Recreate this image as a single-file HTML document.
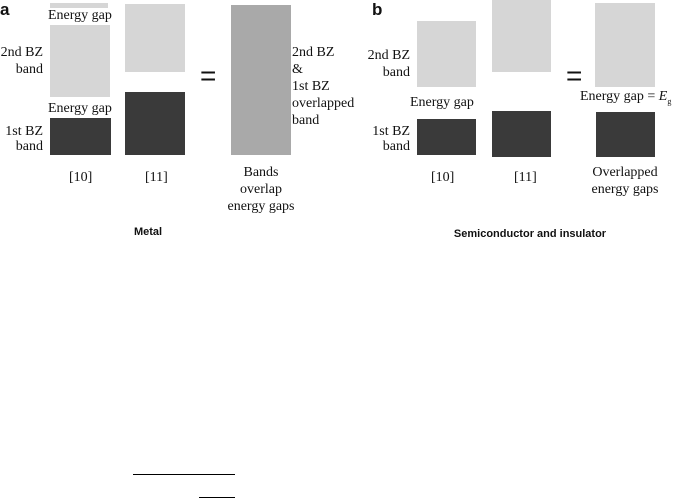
<!DOCTYPE html><html><head><style>
body{margin:0;width:674px;height:499px;background:#fff;position:relative;overflow:hidden;font-family:"Liberation Serif",serif;color:#111}
div{position:absolute}
.t{font-size:14px;line-height:14px;white-space:nowrap}
.L{background:#d6d6d6}.D{background:#3a3a3a}.M{background:#a9a9a9}
.r{text-align:right}.c{text-align:center}
.s{font-family:"Liberation Sans",sans-serif;font-weight:bold}
</style></head><body>
<div class="s" style="left:0;top:0;font-size:17px">a</div>
<div class="L" style="left:50px;top:3px;width:58px;height:5px"></div>
<div class="t" style="left:48px;top:9px">Energy gap</div>
<div class="L" style="left:50px;top:25px;width:60px;height:72px"></div>
<div class="t r" style="left:0;top:44px;width:43px;line-height:17px">2nd BZ<br>band</div>
<div class="t" style="left:48px;top:102px">Energy gap</div>
<div class="D" style="left:50px;top:118px;width:61px;height:37px"></div>
<div class="t r" style="left:0;top:124px;width:43px;line-height:15px">1st BZ<br>band</div>
<div class="L" style="left:125px;top:4px;width:60px;height:68px"></div>
<div class="D" style="left:125px;top:92px;width:60px;height:63px"></div>
<div class="t" style="left:200px;top:62px;font-size:28px;font-family:'Liberation Sans',sans-serif;line-height:28px">=</div>
<div class="M" style="left:231px;top:5px;width:60px;height:150px"></div>
<div class="t" style="left:292px;top:44px;line-height:17px">2nd BZ<br>&amp;<br>1st BZ<br>overlapped<br>band</div>
<div class="t" style="left:69px;top:171px">[10]</div>
<div class="t" style="left:145px;top:171px">[11]</div>
<div class="t c" style="left:211px;top:164px;width:100px;line-height:17px">Bands<br>overlap<br>energy gaps</div>
<div class="s" style="left:98px;top:226px;width:100px;text-align:center;font-size:11px">Metal</div>

<div class="s" style="left:372px;top:0;font-size:17px">b</div>
<div class="L" style="left:417px;top:21px;width:59px;height:66px"></div>
<div class="t r" style="left:360px;top:47px;width:50px;line-height:17px">2nd BZ<br>band</div>
<div class="t" style="left:410px;top:96px">Energy gap</div>
<div class="D" style="left:417px;top:119px;width:59px;height:36px"></div>
<div class="t r" style="left:360px;top:124px;width:50px;line-height:15px">1st BZ<br>band</div>
<div class="L" style="left:492px;top:0;width:59px;height:72px"></div>
<div class="D" style="left:492px;top:111px;width:59px;height:46px"></div>
<div class="t" style="left:566px;top:62px;font-size:28px;font-family:'Liberation Sans',sans-serif;line-height:28px">=</div>
<div class="L" style="left:595px;top:3px;width:60px;height:84px"></div>
<div class="t" style="left:580px;top:90px">Energy gap = <i>E</i><sub style="font-size:8px">g</sub></div>
<div class="D" style="left:596px;top:112px;width:59px;height:45px"></div>
<div class="t" style="left:431px;top:171px">[10]</div>
<div class="t" style="left:514px;top:171px">[11]</div>
<div class="t c" style="left:575px;top:164px;width:100px;line-height:17px">Overlapped<br>energy gaps</div>
<div class="s" style="left:430px;top:228px;width:200px;text-align:center;font-size:11px">Semiconductor and insulator</div>

<div style="left:133px;top:474px;width:102px;height:1px;background:#000"></div>
<div style="left:199px;top:497px;width:36px;height:1px;background:#000"></div>
</body></html>
